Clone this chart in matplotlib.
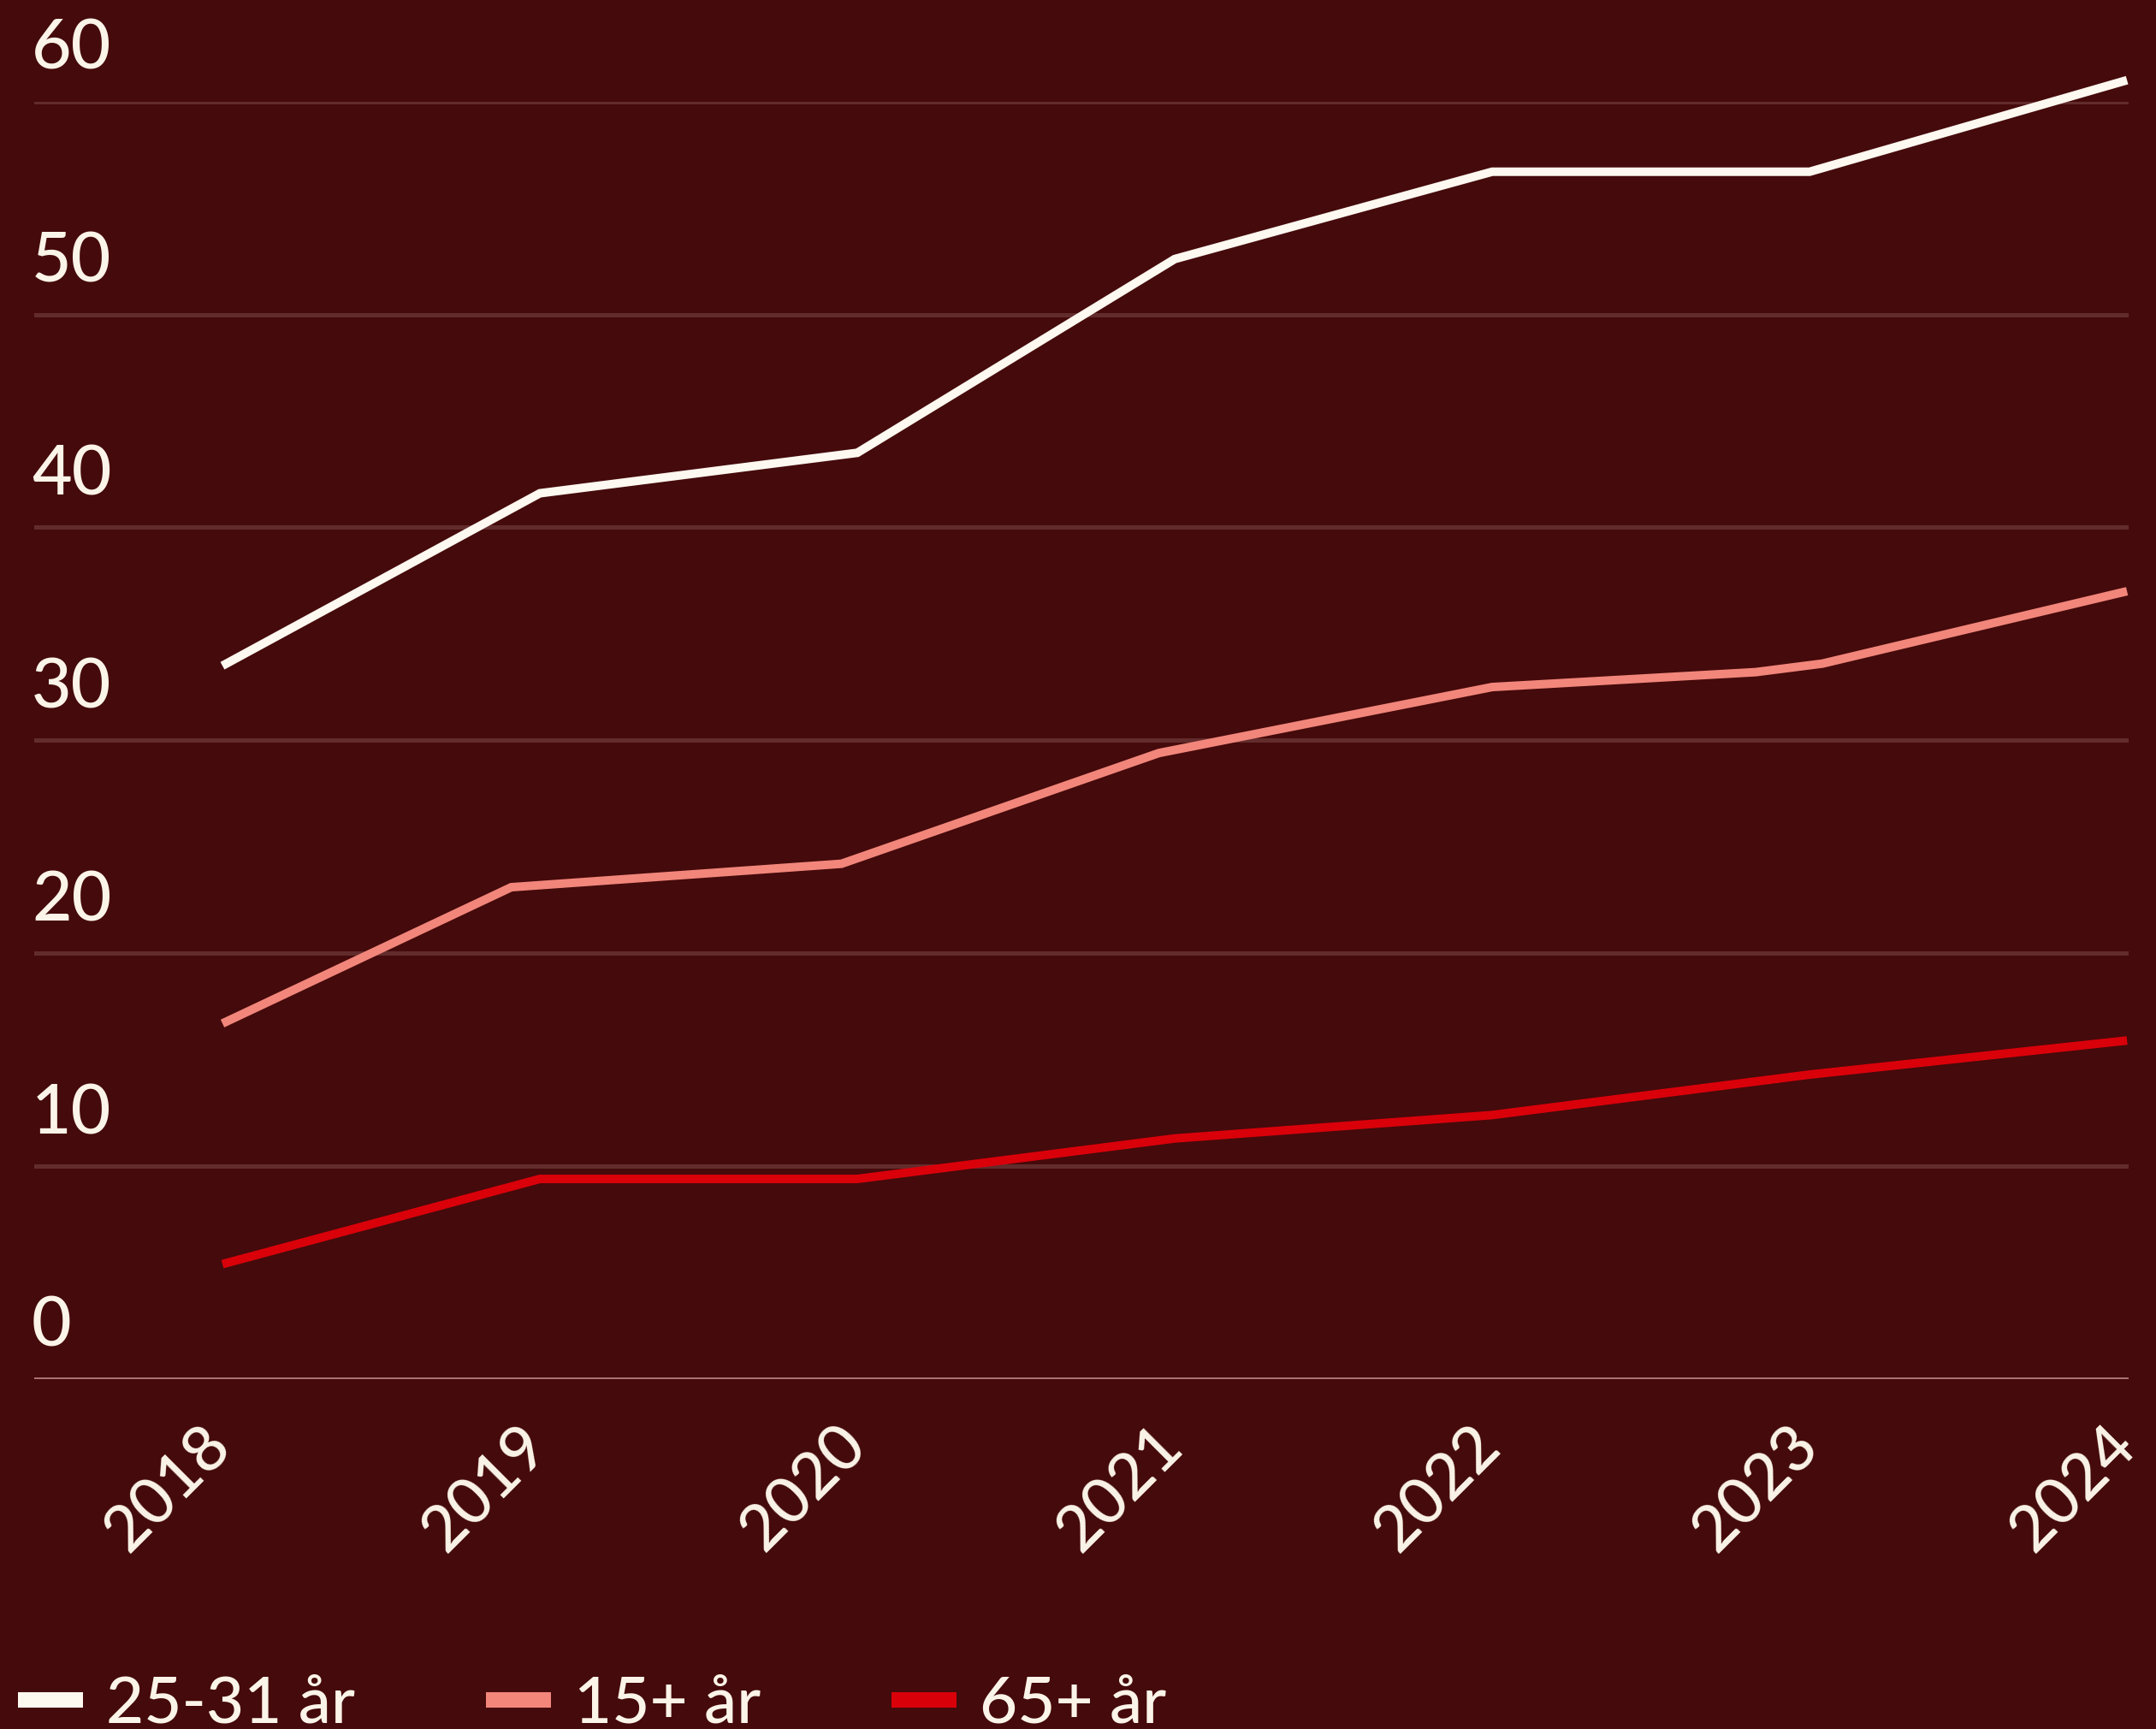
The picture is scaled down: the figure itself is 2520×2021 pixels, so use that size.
import matplotlib
matplotlib.use("Agg")
import matplotlib.pyplot as plt
from matplotlib import transforms

# ── Data ────────────────────────────────────────────────────────────────────
YEARS = [2018, 2019, 2020, 2021, 2022, 2023, 2024]

# 25-31 år
x_young = [2018, 2019, 2020, 2021, 2022, 2023, 2024]
y_young = [33.5, 41.6, 43.5, 52.6, 56.7, 56.7, 61.0]

# 15+ år (points sit slightly off the year ticks in the source)
x_all = [2018, 2018.91, 2019.95, 2020.95, 2022.0, 2022.83, 2023.04, 2024]
y_all = [16.7, 23.1, 24.2, 29.4, 32.5, 33.2, 33.6, 37.0]

# 65+ år
x_old = [2018, 2019, 2020, 2021, 2022, 2023, 2024]
y_old = [5.4, 9.4, 9.4, 11.3, 12.4, 14.3, 15.9]

Y_TICKS = [0, 10, 20, 30, 40, 50, 60]
LABELS = ["25-31 år", "15+ år", "65+ år"]

# ── Style ──────────────────────────────────────────────────────────────────
BG = "#450a0b"
GRID = "#632c2c"
ZERO = "#b07a7a"
TEXT = "#fbf4e8"
COLORS = ["#fdf8f0", "#f2867b", "#d9000a"]
FONT = "Lato"

plt.rcParams["font.family"] = [FONT, "DejaVu Sans"]

fig = plt.figure(figsize=(25.2, 20.21), dpi=100)
fig.patch.set_facecolor(BG)
ax = fig.add_axes([40 / 2520, 1 - 1612 / 2021, 2448 / 2520, (1612 - 118.6) / 2021])
ax.set_facecolor(BG)

ax.set_xlim(2018 - 220 / 371, 2024.005)
ax.set_ylim(0, 60)

# grid lines
for v in Y_TICKS[1:]:
    ax.axhline(v, color=GRID, lw=3.6, zorder=1)
ax.axhline(0, color=ZERO, lw=3.4, zorder=1)

series = [(x_young, y_young), (x_all, y_all), (x_old, y_old)]
lines = []
for (xs, ys), c, lab in zip(series, COLORS, LABELS):
    ln, = ax.plot(xs, ys, color=c, lw=7.2, label=lab, clip_on=False,
                  solid_capstyle="butt", solid_joinstyle="miter", zorder=3)
    lines.append(ln)

for s in ax.spines.values():
    s.set_visible(False)

# y labels sit above their grid line, flush left
ax.set_yticks([])
trans = transforms.blended_transform_factory(ax.transAxes, ax.transData)
for v in Y_TICKS:
    ax.text(0, v, str(v), transform=trans + transforms.ScaledTranslation(-3 / 100, 38 / 100, fig.dpi_scale_trans),
            ha="left", va="baseline", fontsize=58, color=TEXT, fontweight="medium")

ax.set_xticks(YEARS)
ax.set_xticklabels([str(y) for y in YEARS], rotation=45, ha="right", va="top",
                   rotation_mode="anchor", fontsize=54, color=TEXT, fontweight="medium")
ax.tick_params(axis="x", length=0, pad=30)
shift = transforms.ScaledTranslation(-26 / 100, 0, fig.dpi_scale_trans)
for lbl in ax.get_xticklabels():
    lbl.set_transform(lbl.get_transform() + shift)

leg = fig.legend(handles=lines, labels=LABELS, loc="center left",
                 bbox_to_anchor=(21 / 2520, 29 / 2021), ncol=3, frameon=False,
                 fontsize=55, handlelength=1.0, handletextpad=0.35,
                 columnspacing=2.0, borderpad=0, borderaxespad=0)
for t in leg.get_texts():
    t.set_color(TEXT)
    t.set_fontweight("medium")
for ln in leg.get_lines():
    ln.set_linewidth(13)
    ln.set_solid_capstyle("butt")

fig.savefig("out.png", dpi=100, facecolor=BG)
